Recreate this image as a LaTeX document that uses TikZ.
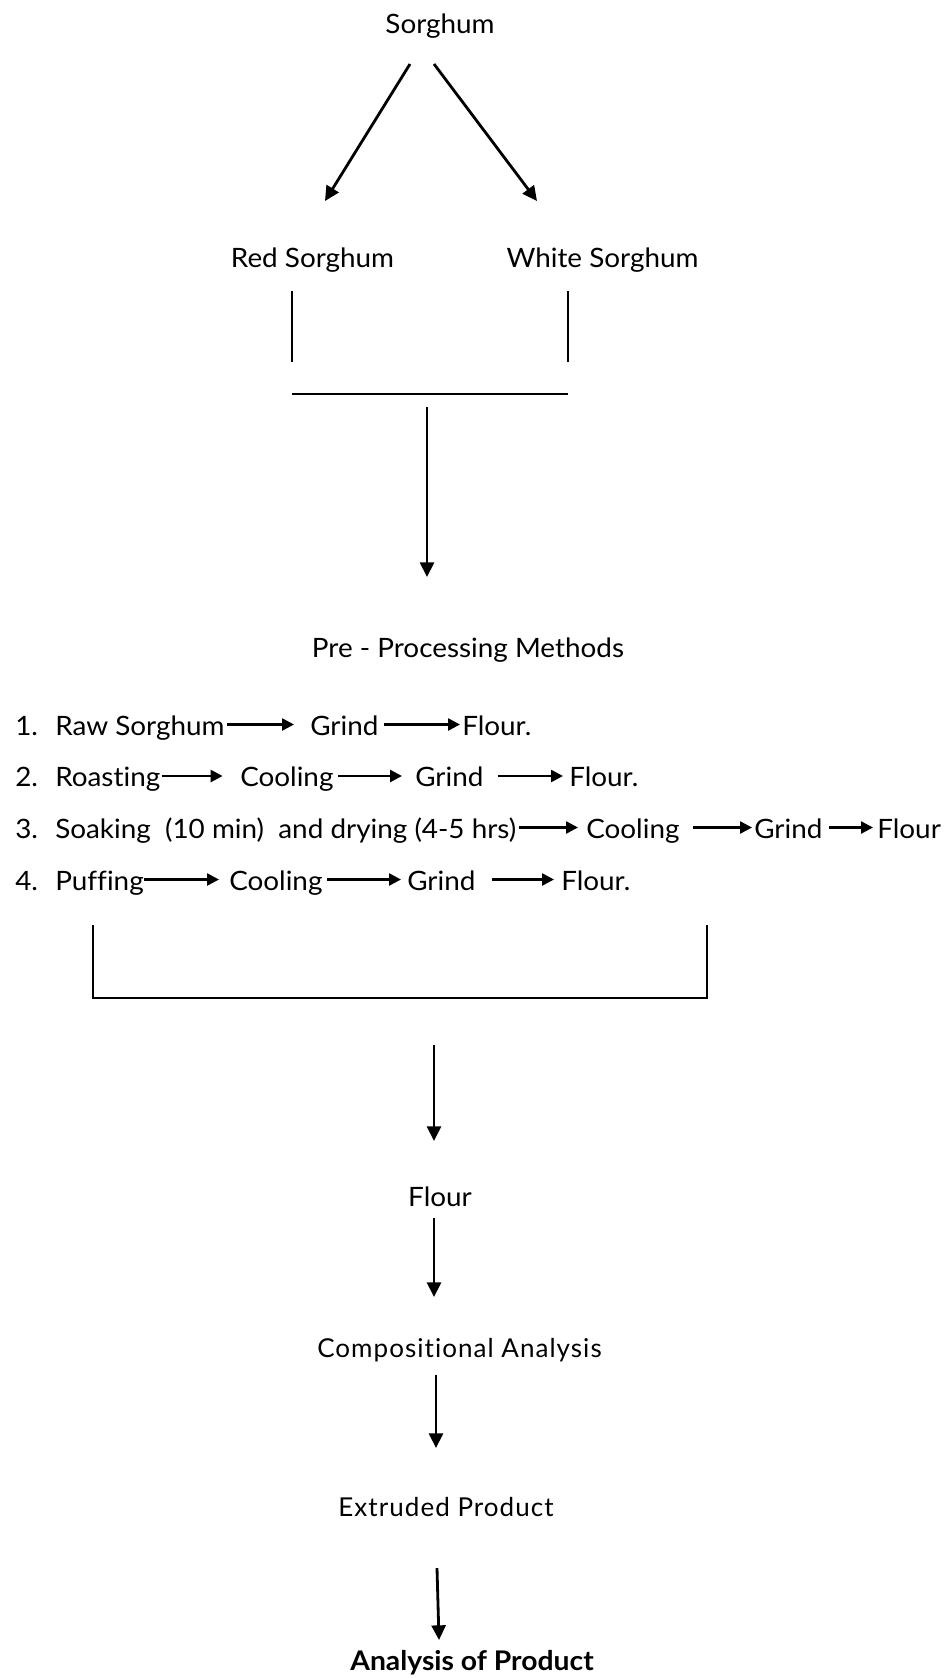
\documentclass[tikz,border=0pt]{standalone}
\usepackage{fontspec}
\setmainfont{Lato}[FakeStretch=1.045,Ligatures=NoCommon]
\newfontfamily\widefont{Lato}[LetterSpace=4,Ligatures=NoCommon]
\usetikzlibrary{arrows.meta}
\tikzset{
  lbl/.style={inner sep=0pt, anchor=base, font=\fontsize{20}{24}\selectfont},
  lblw/.style={inner sep=0pt, anchor=base west, font=\fontsize{20}{24}\selectfont},
  lbll/.style={inner sep=0pt, anchor=base, font=\widefont\fontsize{19.5}{22}\selectfont},
  lblb/.style={inner sep=0pt, anchor=base, font=\fontsize{20.3}{24}\selectfont\bfseries},
  bigarrow/.style={line width=2.1pt, -{Triangle[length=11pt,width=10.5pt]}},
  rowarrow/.style={line width=1.9pt, -{Triangle[length=9pt,width=9pt]}},
  thin/.style={line width=0.8pt}
}
\begin{document}
\begin{tikzpicture}[x=0.75pt,y=-0.75pt]
\useasboundingbox (0,0) rectangle (948,1678);
% top
\node[lbl] (sorghum) at (440,33) {Sorghum};
\node[lbl] (red) at (312.5,267.5) {Red Sorghum};
\node[lbl] (white) at (602.5,267.5) {White Sorghum};
\coordinate (s1) at (410,64);
\coordinate (r1) at (325,201);
\coordinate (s2) at (434,64);
\coordinate (w1) at (537,201);
\draw[bigarrow] (s1) -- (r1);
\draw[bigarrow] (s2) -- (w1);
\coordinate (ra) at (292,291);
\coordinate (rb) at (292,362);
\coordinate (wa) at (568,291);
\coordinate (wb) at (568,362);
\coordinate (ja) at (292,394);
\coordinate (jb) at (568,394);
\draw[thin] (ra) -- (rb);
\draw[thin] (wa) -- (wb);
\draw[thin] (ja) -- (jb);
\coordinate (d1) at (427,407);
\coordinate (d2) at (427,577);
\draw[bigarrow] (d1) -- (d2);
\node[lbl] (pre) at (468,657) {Pre - Processing Methods};
% rows
\node[lblw] (n1) at (15,735) {1.};
\node[lblw] (a1) at (55,735) {Raw Sorghum};
\node[lblw] (b1) at (310,735) {Grind};
\node[lblw] (c1) at (462,735) {Flour.};
\node[lblw] (n2) at (15,786.5) {2.};
\node[lblw] (a2) at (55,786.5) {Roasting};
\node[lblw] (b2) at (240,786.5) {Cooling};
\node[lblw] (c2) at (415,786.5) {Grind};
\node[lblw] (e2) at (569,786.5) {Flour.};
\node[lblw] (n3) at (15,838) {3.};
\node[lblw] (a3) at (55,838) {Soaking\ \ (10 min)\ \ and drying (4-5 hrs)};
\node[lblw] (b3) at (586,838) {Cooling};
\node[lblw] (c3) at (754,838) {Grind};
\node[lblw] (e3) at (877,838) {Flour};
\node[lblw] (n4) at (15,890) {4.};
\node[lblw] (a4) at (55,890) {Puffing};
\node[lblw] (b4) at (229,890) {Cooling};
\node[lblw] (c4) at (407,890) {Grind};
\node[lblw] (e4) at (561,890) {Flour.};
% row arrows
\foreach \y/\xa/\xb in {735/227/294, 735/384/460,
  786.5/161.6/222.6, 786.5/338/402, 786.5/497.5/563,
  838/519/578, 838/693/752, 838/829/873,
  890/144/219, 890/327/401, 890/492/554}{
  \coordinate (p) at (\xa,\y-10.5);
  \coordinate (q) at (\xb,\y-10.5);
  \draw[rowarrow] (p) -- (q);
}
% bracket
\coordinate (k1) at (93,925);
\coordinate (k2) at (93,998);
\coordinate (k3) at (707,998);
\coordinate (k4) at (707,925);
\draw[thin] (k1) -- (k2) -- (k3) -- (k4);
\coordinate (f1) at (434,1045);
\coordinate (f2) at (434,1141);
\draw[bigarrow] (f1) -- (f2);
\node[lbl] (flour) at (440,1206) {Flour};
\coordinate (g1) at (434,1218);
\coordinate (g2) at (434,1297);
\draw[bigarrow] (g1) -- (g2);
\node[lbll] (comp) at (459.5,1357) {Compositional Analysis};
\coordinate (h1) at (436,1375);
\coordinate (h2) at (436,1448);
\draw[bigarrow] (h1) -- (h2);
\node[lbll] (ext) at (446,1516) {Extruded Product};
\coordinate (i1) at (437,1568);
\coordinate (i2) at (439,1640);
\draw[bigarrow] (i1) -- (i2);
\node[lblb] (anal) at (472,1670) {Analysis of Product};
\end{tikzpicture}
\end{document}
